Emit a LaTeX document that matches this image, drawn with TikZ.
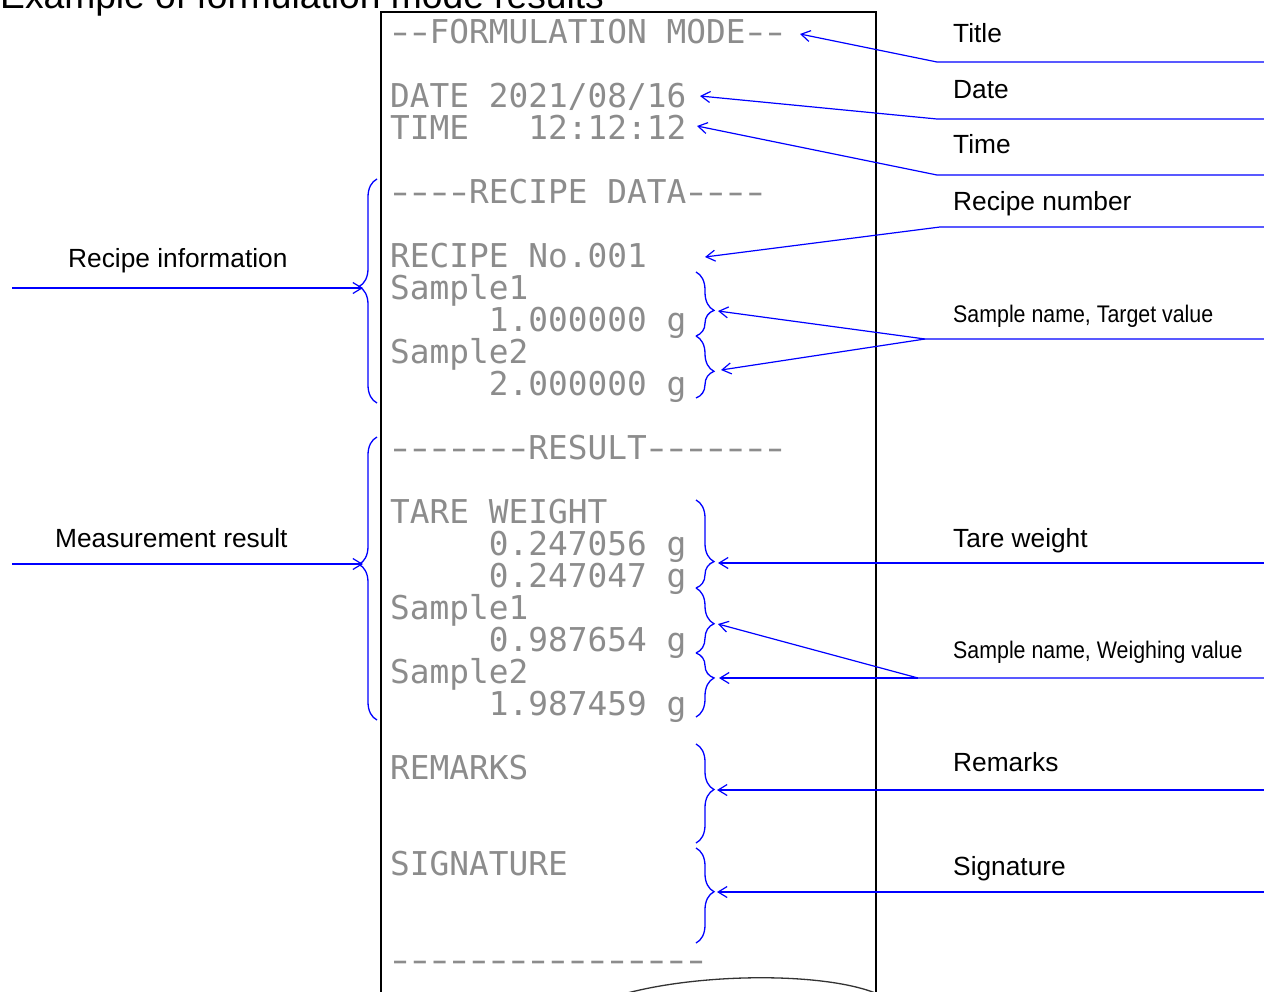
\documentclass[tikz,border=0pt]{standalone}
\usepackage{fontspec}
\usepackage{graphicx}
\setmainfont{Liberation Sans}
\newfontfamily\dotfont{DejaVu Sans Mono}
\usetikzlibrary{arrows.meta,decorations.pathreplacing}
\newcommand\dotdash{\makebox[0.602em]{\scalebox{1.45}[1]{-}}}
\begin{document}
\begin{tikzpicture}[x=1pt,y=-1pt,
  lbl/.style={anchor=base west,inner sep=0pt,font=\fontsize{26.3}{29}\selectfont},
  nlbl/.style={anchor=base west,inner sep=0pt,font=\fontsize{24}{27}\selectfont},
  rcpt/.style={anchor=base west,inner sep=0pt,font=\dotfont\fontsize{32.8}{34}\selectfont,text=black!45},
  conn/.style={draw=blue,line width=1.2pt,-{Straight Barb[length=9pt,width=11pt]}},
  brc/.style={draw=blue,line width=1.3pt,decorate,decoration={brace,amplitude=18pt,aspect=#1}},
  paper/.style={draw=black,line width=2pt},
]
\useasboundingbox (0,0) rectangle (1264,991);
% heading (cut at the top, as in the reference)
\node[anchor=base west,inner sep=0pt,font=\fontsize{37.2}{40}\selectfont] (heading) at (0,8) {Example of formulation mode results};
% receipt paper
\draw[paper] (381,1000) -- (381,12) -- (876,12) -- (876,1000);
\draw[draw=black!80,line width=1.3pt] (620,995) .. controls (700,972) and (830,972) .. (880,995);
% receipt text
\node[rcpt] (r0) at (390,43) {\dotdash\dotdash FORMULATION MODE\dotdash\dotdash};
\node[rcpt] (r2) at (390,107) {DATE 2021/08/16};
\node[rcpt] (r3) at (390,139) {TIME\ \ \ 12:12:12};
\node[rcpt] (r5) at (390,203) {\dotdash\dotdash\dotdash\dotdash RECIPE DATA\dotdash\dotdash\dotdash\dotdash};
\node[rcpt] (r7) at (390,267) {RECIPE No.001};
\node[rcpt] (r8) at (390,299) {Sample1};
\node[rcpt] (r9) at (488.75,331) {1.000000 g};
\node[rcpt] (r10) at (390,363) {Sample2};
\node[rcpt] (r11) at (488.75,395) {2.000000 g};
\node[rcpt] (r13) at (390,459) {\dotdash\dotdash\dotdash\dotdash\dotdash\dotdash\dotdash RESULT\dotdash\dotdash\dotdash\dotdash\dotdash\dotdash\dotdash};
\node[rcpt] (r15) at (390,523) {TARE WEIGHT};
\node[rcpt] (r16) at (488.75,555) {0.247056 g};
\node[rcpt] (r17) at (488.75,587) {0.247047 g};
\node[rcpt] (r18) at (390,619) {Sample1};
\node[rcpt] (r19) at (488.75,651) {0.987654 g};
\node[rcpt] (r20) at (390,683) {Sample2};
\node[rcpt] (r21) at (488.75,715) {1.987459 g};
\node[rcpt] (r23) at (390,779) {REMARKS};
\node[rcpt] (r26) at (390,875) {SIGNATURE};
\node[rcpt] (r29) at (390,971) {\dotdash\dotdash\dotdash\dotdash\dotdash\dotdash\dotdash\dotdash\dotdash\dotdash\dotdash\dotdash\dotdash\dotdash\dotdash\dotdash};
% braces
\draw[brc=0.52] (377,403) -- (377,179);
\draw[brc=0.55] (377,720) -- (377,437);
\draw[brc=0.6] (696,272) -- (696,336);
\draw[brc=0.57] (696,336) -- (696,398);
\draw[brc=0.70] (696,500) -- (696,588);
\draw[brc=0.55] (696,588) -- (696,653);
\draw[brc=0.39] (696,653) -- (696,717);
\draw[brc=0.46] (696,744) -- (696,843);
\draw[brc=0.46] (696,848) -- (696,943);
% coordinates
\coordinate (eTitle) at (1264,62);  \coordinate (jTitle) at (937,62);  \coordinate (aTitle) at (800,34);
\coordinate (eDate) at (1264,119);  \coordinate (jDate) at (937,119);  \coordinate (aDate) at (700,96);
\coordinate (eTime) at (1264,175);  \coordinate (jTime) at (937,175);  \coordinate (aTime) at (697,126);
\coordinate (eRec) at (1264,227);   \coordinate (jRec) at (940,227);   \coordinate (aRec) at (705,257);
\coordinate (eST) at (1264,339);    \coordinate (jST) at (925,339);
\coordinate (aST1) at (718,311);    \coordinate (aST2) at (721,370);
\coordinate (eTare) at (1264,563);  \coordinate (aTare) at (718,563);
\coordinate (eSW) at (1264,678);    \coordinate (jSW) at (918,678);
\coordinate (aSW1) at (718,624);    \coordinate (aSW2) at (719,678);
\coordinate (eRem) at (1264,790);   \coordinate (aRem) at (717,790);
\coordinate (eSig) at (1264,892);   \coordinate (aSig) at (717,892);
\coordinate (sRI) at (12,288);      \coordinate (aRI) at (363,288);
\coordinate (sMR) at (12,564);      \coordinate (aMR) at (363,564);
% right labels
\node[lbl] (tTitle) at (953,42) {Title};
\node[lbl] (tDate) at (953,98) {Date};
\node[lbl] (tTime) at (953,153) {Time};
\node[lbl] (tRec) at (953,210) {Recipe number};
\node[nlbl] (tST) at (953,322) {\scalebox{0.89}[1]{Sample name, Target value}};
\node[lbl] (tTare) at (953,547) {Tare weight};
\node[nlbl] (tSW) at (953,658) {\scalebox{0.89}[1]{Sample name, Weighing value}};
\node[lbl] (tRem) at (953,771) {Remarks};
\node[lbl] (tSig) at (953,875) {Signature};
% left labels
\node[lbl] (tRI) at (68,267) {Recipe information};
\node[lbl] (tMR) at (55,547) {Measurement result};
% connectors
\draw[conn] (eTitle) -- (jTitle) -- (aTitle);
\draw[conn] (eDate) -- (jDate) -- (aDate);
\draw[conn] (eTime) -- (jTime) -- (aTime);
\draw[conn] (eRec) -- (jRec) -- (aRec);
\draw[conn] (eST) -- (jST) -- (aST1);
\draw[conn] (jST) -- (aST2);
\draw[conn] (eTare) -- (aTare);
\draw[conn] (eSW) -- (jSW) -- (aSW1);
\draw[conn] (jSW) -- (aSW2);
\draw[conn] (eRem) -- (aRem);
\draw[conn] (eSig) -- (aSig);
\draw[conn] (sRI) -- (aRI);
\draw[conn] (sMR) -- (aMR);
\end{tikzpicture}
\end{document}
